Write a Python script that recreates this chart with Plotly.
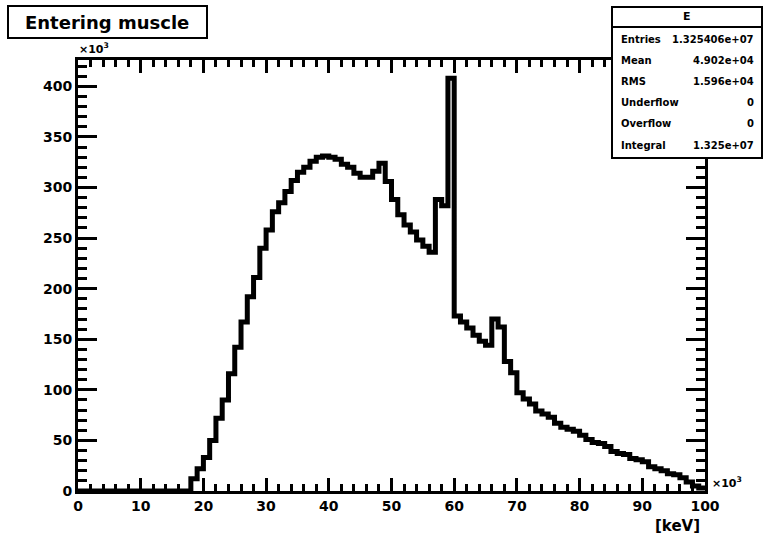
import plotly.graph_objects as go

# ---------------- data (bin contents in units of 10^3, 1-keV bins 0..100) -------------
bin_edges = list(range(0, 101))
counts = [
    0, 0, 0, 0, 0, 0, 0, 0, 0, 0,            # 0-9
    0, 0, 0, 0, 0, 0, 0, 0, 12, 22,          # 10-19
    33, 50, 72, 90, 116, 142, 167, 192, 211, 240,   # 20-29
    258, 276, 285, 296, 307, 315, 320, 326, 330, 331,  # 30-39
    330, 328, 323, 320, 314, 310, 310, 316, 324, 306,  # 40-49
    288, 273, 263, 256, 248, 242, 236, 288, 282, 408,  # 50-59
    173, 167, 161, 154, 148, 144, 170, 162, 128, 117,  # 60-69
    97, 91, 86, 79, 76, 73, 67, 63, 61, 59,            # 70-79
    55, 51, 48, 47, 44, 39, 37, 36, 32, 31,            # 80-89
    29, 24, 22, 20, 17, 16, 13, 9, 5, 3,               # 90-99
]
x_ticks = [0, 10, 20, 30, 40, 50, 60, 70, 80, 90, 100]
y_ticks = [0, 50, 100, 150, 200, 250, 300, 350, 400]

hist_title = "Entering muscle"
stats_name = "E"
stats_labels = ["Entries", "Mean", "RMS", "Underflow", "Overflow", "Integral"]
stats_values = ["1.325406e+07", "4.902e+04", "1.596e+04", "0", "0", "1.325e+07"]

# ---------------- geometry helpers (pixel -> paper) ----------------
W, H = 763, 538
L, R, T, B = 78, 705, 60, 491


def px(x):
    return (x - L) / (R - L)


def py(y):
    return (B - y) / (B - T)


FONT = "DejaVu Sans"

fig = go.Figure()
fig.add_trace(go.Scatter(
    x=bin_edges,
    y=counts + [counts[-1]],
    mode="lines",
    line=dict(shape="hv", color="black", width=5),
    hoverinfo="skip",
    showlegend=False,
))

axis_common = dict(
    showgrid=False, zeroline=False,
    showline=True, linecolor="black", linewidth=3,
    mirror="allticks", ticks="inside", tickcolor="black", tickwidth=3,
    tickfont=dict(family=FONT, size=14, color="black", weight="bold"),
)

fig.update_layout(
    width=W, height=H,
    margin=dict(l=L, r=W - R, t=T, b=H - B, pad=0),
    plot_bgcolor="white", paper_bgcolor="white",
    xaxis=dict(range=[0, 100], tickvals=x_ticks, ticklen=13,
               minor=dict(dtick=2, ticklen=7, tickwidth=3, tickcolor="black", ticks="inside"),
               **axis_common),
    yaxis=dict(range=[0, 426], tickvals=y_ticks, ticklen=19,
               minor=dict(dtick=10, ticklen=9, tickwidth=3, tickcolor="black", ticks="inside"),
               **axis_common),
)

shapes = []
annotations = []

# title box
shapes.append(dict(type="rect", xref="paper", yref="paper",
                   x0=px(8), x1=px(207), y0=py(38), y1=py(6),
                   line=dict(color="black", width=2), fillcolor="white", layer="above"))
annotations.append(dict(xref="paper", yref="paper", x=px(107), y=py(22),
                        text=hist_title, showarrow=False, xanchor="center", yanchor="middle",
                        font=dict(family=FONT, size=18, color="black", weight="bold")))

# stats box
shapes.append(dict(type="rect", xref="paper", yref="paper",
                   x0=px(612), x1=px(762), y0=py(158), y1=py(7),
                   line=dict(color="black", width=2), fillcolor="white", layer="above"))
shapes.append(dict(type="line", xref="paper", yref="paper",
                   x0=px(612), x1=px(762), y0=py(27), y1=py(27),
                   line=dict(color="black", width=2), layer="above"))
annotations.append(dict(xref="paper", yref="paper", x=px(687), y=py(16),
                        text=stats_name, showarrow=False, xanchor="center", yanchor="middle",
                        font=dict(family=FONT, size=11, color="black", weight="bold")))
row_y = [39, 60, 81, 102, 123, 145]
for lab, val, yy in zip(stats_labels, stats_values, row_y):
    annotations.append(dict(xref="paper", yref="paper", x=px(619), y=py(yy),
                            text=lab, showarrow=False, xanchor="left", yanchor="middle",
                            font=dict(family=FONT, size=10, color="black", weight="bold")))
    annotations.append(dict(xref="paper", yref="paper", x=px(756), y=py(yy),
                            text=val, showarrow=False, xanchor="right", yanchor="middle",
                            font=dict(family=FONT, size=10, color="black", weight="bold")))

# multipliers and axis title
annotations.append(dict(xref="paper", yref="paper", x=px(77), y=py(48),
                        text="×10<sup>3</sup>", showarrow=False, xanchor="left", yanchor="middle",
                        font=dict(family=FONT, size=11, color="black", weight="bold")))
annotations.append(dict(xref="paper", yref="paper", x=px(710), y=py(482),
                        text="×10<sup>3</sup>", showarrow=False, xanchor="left", yanchor="middle",
                        font=dict(family=FONT, size=11, color="black", weight="bold")))
annotations.append(dict(xref="paper", yref="paper", x=px(702), y=py(526),
                        text="[keV]", showarrow=False, xanchor="right", yanchor="middle",
                        font=dict(family=FONT, size=15, color="black", weight="bold")))

fig.update_layout(shapes=shapes, annotations=annotations)

fig.write_html("out.html")
